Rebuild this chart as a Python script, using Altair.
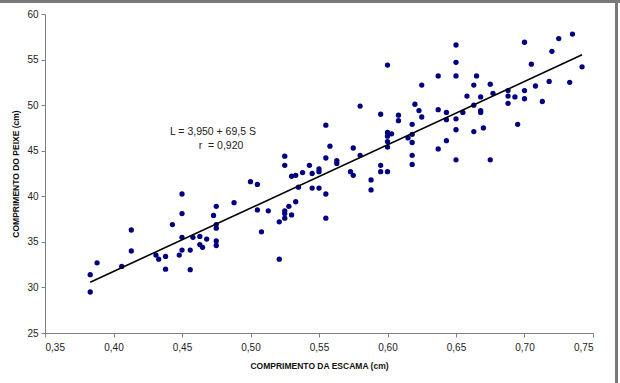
import altair as alt
import pandas as pd

# Scale length (cm) and fish length (cm) for each sampled fish
escama = [
    0.383, 0.383, 0.388, 0.406, 0.413, 0.413, 0.431, 0.433, 0.438, 0.438,
    0.443, 0.448, 0.450, 0.450, 0.450, 0.450, 0.456, 0.456, 0.458, 0.463,
    0.463, 0.465, 0.468, 0.473, 0.475, 0.475, 0.475, 0.475, 0.475, 0.488,
    0.500, 0.505, 0.505, 0.508, 0.513, 0.521, 0.521, 0.525, 0.525, 0.525,
    0.525, 0.525, 0.528, 0.530, 0.530, 0.533, 0.533, 0.535, 0.538, 0.543,
    0.545, 0.545, 0.550, 0.550, 0.550, 0.555, 0.555, 0.555, 0.555, 0.558,
    0.563, 0.563, 0.573, 0.575, 0.575, 0.580, 0.580, 0.588, 0.588, 0.595,
    0.595, 0.595, 0.600, 0.600, 0.600, 0.600, 0.600, 0.600, 0.603, 0.608,
    0.608, 0.615, 0.618, 0.618, 0.618, 0.618, 0.618, 0.620, 0.623, 0.625,
    0.625, 0.637, 0.637, 0.637, 0.643, 0.643, 0.643, 0.650, 0.650, 0.650,
    0.650, 0.650, 0.650, 0.655, 0.658, 0.663, 0.663, 0.663, 0.665, 0.668,
    0.668, 0.668, 0.670, 0.675, 0.675, 0.677, 0.688, 0.688, 0.688, 0.693,
    0.695, 0.700, 0.700, 0.700, 0.705, 0.708, 0.713, 0.718, 0.720, 0.725,
    0.733, 0.735, 0.742,
]
peixe = [
    31.4, 29.5, 32.7, 32.3, 36.3, 34.0, 33.55, 33.1, 33.4, 32.0,
    36.9, 33.55, 40.25, 38.1, 35.5, 34.1, 34.1, 31.95, 35.5, 35.6,
    34.7, 34.4, 35.3, 37.9, 38.9, 36.9, 36.5, 35.1, 34.6, 39.3,
    41.6, 41.3, 38.5, 36.1, 38.4, 37.2, 33.1, 44.4, 43.4, 38.4,
    38.1, 37.6, 38.9, 42.2, 37.95, 42.3, 39.4, 41.0, 42.6, 43.4,
    42.5, 40.9, 43.0, 42.7, 40.9, 47.8, 44.2, 40.25, 37.6, 45.5,
    43.9, 43.6, 42.7, 45.3, 42.3, 49.9, 44.5, 41.8, 40.7, 49.0,
    43.4, 42.7, 54.4, 47.0, 46.6, 46.0, 45.4, 42.7, 46.85, 48.9,
    48.3, 46.4, 47.9, 46.8, 45.9, 44.5, 43.5, 50.1, 49.4, 52.2,
    48.7, 53.2, 49.5, 45.2, 49.2, 48.4, 46.1, 56.6, 54.7, 53.2,
    48.5, 47.3, 44.0, 49.2, 51.0, 52.2, 50.0, 47.1, 53.2, 50.9,
    49.4, 49.2, 47.5, 52.3, 44.0, 51.3, 51.6, 51.0, 50.2, 50.9,
    47.9, 56.9, 51.6, 50.7, 54.5, 52.1, 50.4, 52.6, 55.9, 57.3,
    52.5, 57.8, 54.2,
]

# Fitted regression L = a + b*S
intercepto = 3.950
inclinacao = 69.5

pontos = pd.DataFrame({"S": escama, "L": peixe})
s_ext = [min(escama), max(escama)]
reta = pd.DataFrame({"S": s_ext, "L": [intercepto + inclinacao * s for s in s_ext]})

anotacoes = pd.DataFrame({
    "S": [0.4726, 0.4785],
    "L": [47.07, 45.53],
    "texto": ["L = 3,950 + 69,5 S", "r\u00a0 = 0,920"],
})

FONT = "Liberation Sans"
NAVY = "#000080"

x_scale = alt.Scale(domain=[0.35, 0.75], nice=False, zero=False)
y_scale = alt.Scale(domain=[25, 60], nice=False, zero=False)

x_axis = alt.Axis(
    title="COMPRIMENTO DA ESCAMA (cm)",
    values=[0.35, 0.40, 0.45, 0.50, 0.55, 0.60, 0.65, 0.70, 0.75],
    labelExpr="replace(format(datum.value, '.2f'), '.', ',')",
    grid=False,
    domainColor="#808080",
    tickColor="#808080",
    tickSize=4,
    labelPadding=5,
    labelFontSize=10,
    labelColor="#222222",
    labelFont=FONT,
    titleFont=FONT,
    titleFontSize=8.5,
    titleFontWeight="bold",
    titleColor="#111111",
    titleY=32,
    titleBaseline="middle",
)
y_axis = alt.Axis(
    title="COMPRIMENTO DO PEIXE (cm)",
    values=[25, 30, 35, 40, 45, 50, 55, 60],
    format="d",
    grid=False,
    domainColor="#808080",
    tickColor="#808080",
    tickSize=4,
    labelPadding=3,
    labelFontSize=10,
    labelColor="#222222",
    labelFont=FONT,
    titleFont=FONT,
    titleFontSize=8.5,
    titleFontWeight="bold",
    titleColor="#111111",
    titleX=-30,
    titleBaseline="middle",
)

base = alt.Chart(pontos)

scatter = base.mark_circle(size=28, color=NAVY, opacity=1).encode(
    x=alt.X("S:Q", scale=x_scale, axis=x_axis),
    y=alt.Y("L:Q", scale=y_scale, axis=y_axis),
)

linha = alt.Chart(reta).mark_line(color="black", strokeWidth=1.6).encode(
    x=alt.X("S:Q", scale=x_scale),
    y=alt.Y("L:Q", scale=y_scale),
)

texto = alt.Chart(anotacoes).mark_text(
    font=FONT, fontSize=10.5, color="#222222", align="center", baseline="middle"
).encode(
    x=alt.X("S:Q", scale=x_scale),
    y=alt.Y("L:Q", scale=y_scale),
    text="texto:N",
)

# Thin frame along the top and right edges of the chart area
moldura_topo = alt.Chart(pontos).mark_rule(color="#7a7a7a", strokeWidth=1.5, clip=False).encode(
    x=alt.value(-45), x2=alt.value(575), y=alt.value(-12.5)
)
moldura_dir = alt.Chart(pontos).mark_rule(color="#7a7a7a", strokeWidth=1.5, clip=False).encode(
    x=alt.value(571.5), y=alt.value(-14), y2=alt.value(369)
)

chart = (
    alt.layer(scatter, linha, texto, moldura_topo, moldura_dir)
    .properties(
        width=548,
        height=319,
        autosize=alt.AutoSizeParams(type="none"),
        padding={"left": 45, "top": 14, "right": 27, "bottom": 50},
        background="white",
    )
    .configure_view(stroke=None)
)

chart.save("out.html", embed_options={"renderer": "svg", "actions": False})
